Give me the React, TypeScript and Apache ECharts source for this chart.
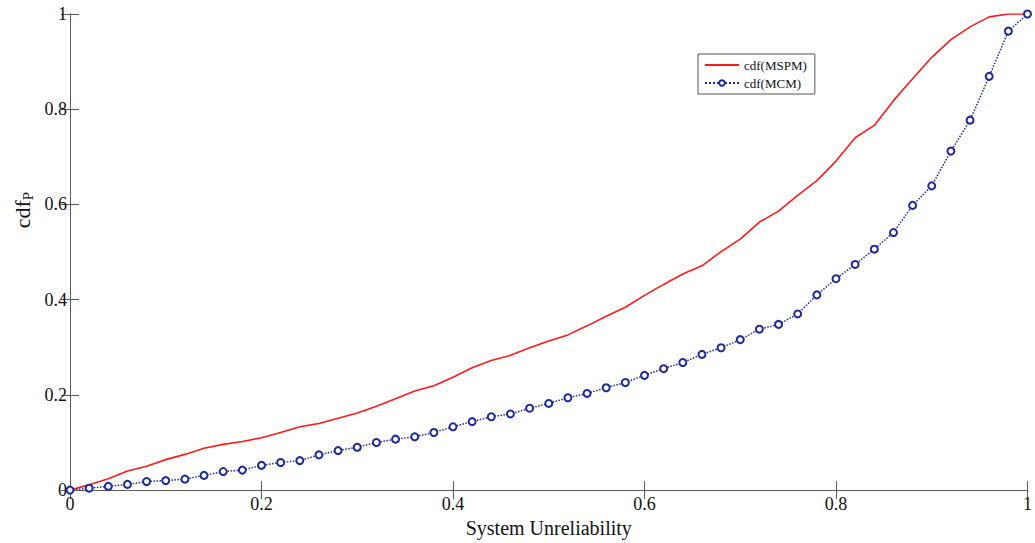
import React, { useEffect, useRef } from "react";
import * as echarts from "echarts";

const xs: number[] = [
  0, 0.02, 0.04, 0.06, 0.08, 0.1, 0.12, 0.14, 0.16, 0.18, 0.2, 0.22, 0.24, 0.26, 0.28, 0.3, 0.32,
  0.34, 0.36, 0.38, 0.4, 0.42, 0.44, 0.46, 0.48, 0.5, 0.52, 0.54, 0.56, 0.58, 0.6, 0.62, 0.64,
  0.66, 0.68, 0.7, 0.72, 0.74, 0.76, 0.78, 0.8, 0.82, 0.84, 0.86, 0.88, 0.9, 0.92, 0.94, 0.96,
  0.98, 1,
];

const mspm: number[] = [
  0, 0.011, 0.024, 0.04, 0.05, 0.064, 0.075, 0.088, 0.096, 0.102, 0.11, 0.121, 0.133, 0.14,
  0.151, 0.162, 0.176, 0.192, 0.208, 0.219, 0.237, 0.257, 0.272, 0.283, 0.299, 0.313, 0.326,
  0.345, 0.365, 0.384, 0.409, 0.432, 0.454, 0.471, 0.501, 0.527, 0.563, 0.586, 0.619, 0.65,
  0.691, 0.74, 0.766, 0.818, 0.864, 0.909, 0.946, 0.973, 0.994, 1.0, 1.0,
];

const mcm: number[] = [
  0, 0.004, 0.008, 0.012, 0.018, 0.02, 0.023, 0.031, 0.039, 0.042, 0.052, 0.058, 0.062, 0.074,
  0.083, 0.09, 0.1, 0.107, 0.112, 0.121, 0.133, 0.144, 0.154, 0.16, 0.172, 0.182, 0.194, 0.203,
  0.215, 0.226, 0.241, 0.255, 0.268, 0.285, 0.299, 0.316, 0.338, 0.348, 0.37, 0.41, 0.444,
  0.474, 0.506, 0.541, 0.598, 0.639, 0.712, 0.777, 0.869, 0.964, 1.0,
];

const seriesNames: string[] = ["cdf(MSPM)", "cdf(MCM)"];
const xTitle = "System Unreliability";

const FONT = "'Liberation Serif', 'Times New Roman', serif";
const AXIS_COLOR = "#5c5c5c";

export default function App() {
  const ref = useRef<HTMLDivElement>(null);

  useEffect(() => {
    if (!ref.current) return;
    const chart = echarts.init(ref.current, null, { renderer: "svg" });

    const axisCommon = {
      type: "value" as const,
      min: 0,
      max: 1,
      interval: 0.2,
      splitLine: { show: false },
      axisLine: { show: true, lineStyle: { color: AXIS_COLOR, width: 1 } },
      axisTick: { show: true, inside: true, length: 9, lineStyle: { color: AXIS_COLOR, width: 1 } },
    };

    chart.setOption({
      animation: false,
      backgroundColor: "#ffffff",
      grid: { left: 70, right: 3, top: 14, bottom: 51, containLabel: false },
      legend: {
        data: [
          { name: seriesNames[0], itemStyle: { opacity: 0 } },
          { name: seriesNames[1] },
        ],
        orient: "vertical",
        left: 698,
        top: 54,
        itemWidth: 34,
        itemHeight: 7,
        itemGap: 4,
        padding: [4, 8, 4, 6],
        backgroundColor: "#ffffff",
        borderColor: "#555555",
        borderWidth: 1,
        borderRadius: 0,
        textStyle: { fontFamily: FONT, fontSize: 13, color: "#111111", lineHeight: 14 },
      },
      xAxis: [
        {
          ...axisCommon,
          position: "bottom",
          name: xTitle,
          nameLocation: "middle",
          nameGap: 27,
          nameTextStyle: { fontFamily: FONT, fontSize: 20, color: "#111111" },
          axisLabel: {
            fontFamily: FONT,
            fontSize: 18,
            color: "#111111",
            margin: 5,
            showMaxLabel: true,
            showMinLabel: true,
          },
        },
        {
          ...axisCommon,
          position: "top",
          axisLabel: { show: false },
        },
      ],
      yAxis: [
        {
          ...axisCommon,
          position: "left",
          axisLabel: {
            fontFamily: FONT,
            fontSize: 18,
            color: "#111111",
            margin: 3,
            showMaxLabel: true,
            showMinLabel: true,
          },
        },
        {
          ...axisCommon,
          position: "right",
          axisLabel: { show: false },
        },
      ],
      graphic: [
        {
          type: "text",
          x: 22,
          y: 210,
          rotation: Math.PI / 2,
          style: {
            text: "{a|cdf}{b|P}",
            rich: {
              a: { fontFamily: FONT, fontSize: 22, fill: "#111111" },
              b: { fontFamily: FONT, fontSize: 15, fill: "#111111", padding: [12, 0, 0, 0] },
            },
            align: "center",
            verticalAlign: "middle",
          },
        },
      ],
      series: [
        {
          name: seriesNames[0],
          type: "line",
          data: xs.map((x, i) => [x, mspm[i]]),
          symbol: "none",
          lineStyle: { color: "#ff1a1a", width: 1.6 },
          itemStyle: { color: "#ff1a1a" },
          z: 3,
        },
        {
          name: seriesNames[1],
          type: "line",
          data: xs.map((x, i) => [x, mcm[i]]),
          symbol: "circle",
          symbolSize: 7,
          lineStyle: { color: "#1c2a9c", width: 1.5, type: "dotted" },
          itemStyle: { color: "#ffffff", borderColor: "#1c2a9c", borderWidth: 2 },
          z: 4,
        },
      ],
    });

    return () => chart.dispose();
  }, []);

  return (
    <div
      ref={ref}
      style={{ position: "absolute", left: 0, top: 0, width: 1035, height: 543 }}
    />
  );
}
